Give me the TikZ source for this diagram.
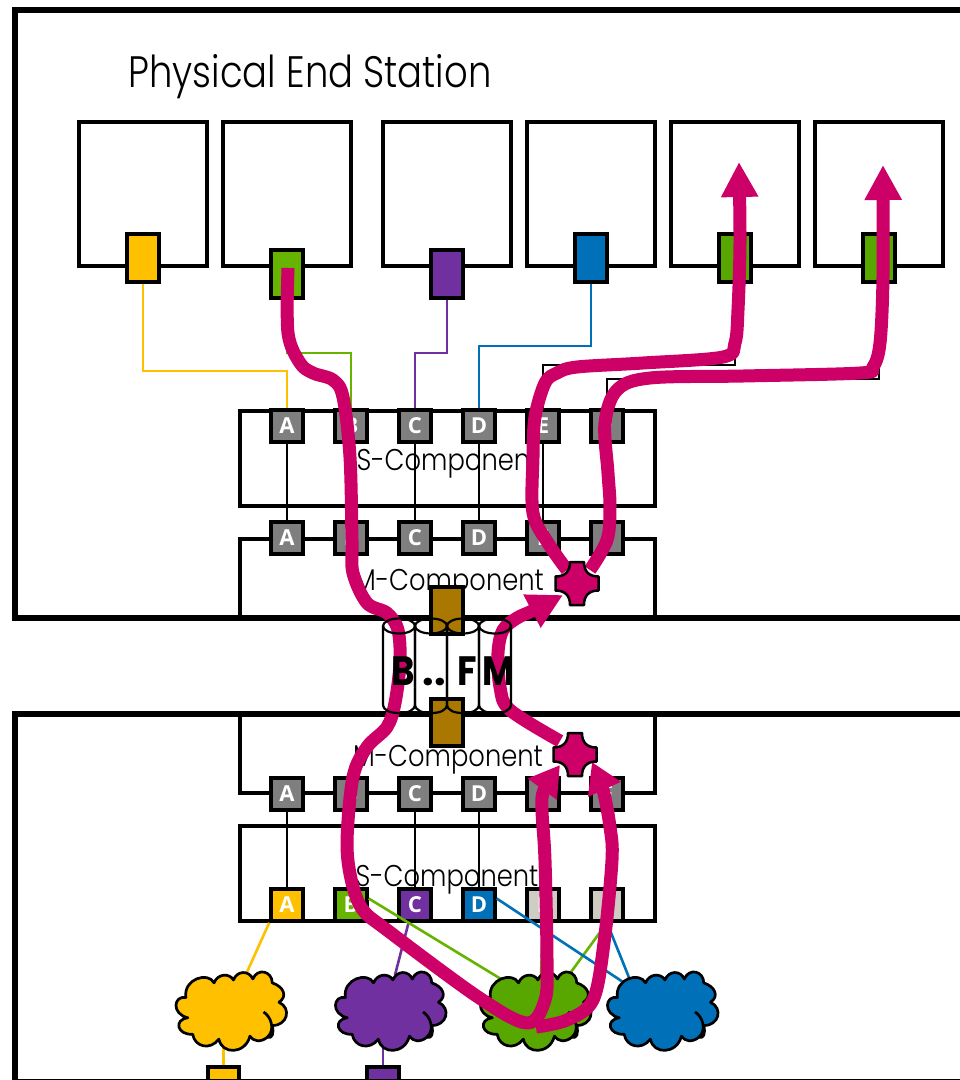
\documentclass[tikz,border=0pt]{standalone}
\usepackage{fontspec}
\setmainfont{Poppins Light}
\newfontfamily\portfont{Open Sans}[BoldFont={Open Sans Bold}]
\newfontfamily\cylfont{Poppins}[BoldFont={Poppins Bold}]
\usetikzlibrary{arrows.meta}
\definecolor{cyel}{HTML}{FFC000}
\definecolor{cgra}{HTML}{66B300}
\definecolor{cgrb}{HTML}{58A600}
\definecolor{cpur}{HTML}{7030A0}
\definecolor{cblu}{HTML}{0070B8}
\definecolor{cgry}{HTML}{7F7F7F}
\definecolor{cbei}{HTML}{CFCDC3}
\definecolor{cbro}{HTML}{AA7700}
\definecolor{cpnk}{HTML}{CC0066}
\tikzset{
  frameline/.style={line width=5.5pt,line cap=butt},
  stationbox/.style={draw=black,fill=white,line width=4pt,minimum width=127.5pt,minimum height=143.5pt,inner sep=0pt},
  compbox/.style={draw=black,fill=white,line width=4pt,minimum width=415pt,inner sep=0pt},
  tport/.style={draw=black,line width=4pt,minimum width=31.5pt,minimum height=47.5pt,inner sep=0pt},
  cport/.style={draw=black,line width=4pt,minimum width=31.5pt,minimum height=31.5pt,inner sep=0pt,text=white,font=\portfont\bfseries\fontsize{22}{22}\selectfont},
  brownbox/.style={draw=black,fill=cbro,line width=4pt,minimum width=31.5pt,minimum height=47pt,inner sep=0pt},
  thinline/.style={line width=2pt},
  innerline/.style={line width=2.5pt},
  cloudline/.style={line width=2.6pt},
  titletext/.style={font=\fontsize{44}{44}\selectfont,anchor=base,inner sep=0pt},
  comptext/.style={font=\fontsize{30}{30}\selectfont,anchor=base,inner sep=0pt},
  cyltext/.style={font=\cylfont\bfseries\fontsize{41}{41}\selectfont,anchor=base,inner sep=0pt},
  pinkline/.style={draw=cpnk,line width=13pt,line join=round},
  pinkarrow/.style={pinkline,-{Triangle[length=35pt,width=35pt,fill=cpnk]}},
  pinkarrowb/.style={pinkline,-{Triangle[length=30pt,width=34pt,fill=cpnk]}},
  crossshape/.style={draw=black,fill=cpnk,line width=2.5pt,line join=round},
  cloudshape/.style={draw=black,line width=2.7pt,line join=round},
  cylshape/.style={draw=black,line width=2.2pt},
}
\newcommand{\cloudat}[3]{%
  \begin{scope}[shift={(#1,#2)},scale=.97]
  \path[cloudshape,fill=#3]
    (-47,-13) .. controls (-50,-32) and (-24,-40) .. (-18,-28)
    .. controls (-14,-38) and (-2,-38) .. (2,-31)
    .. controls (6,-41) and (18,-41) .. (22,-32)
    .. controls (27,-44) and (42,-40) .. (42,-28)
    .. controls (54,-24) and (58,-14) .. (49,-8)
    .. controls (62,-2) and (58,16) .. (42,16)
    .. controls (44,24) and (42,30) .. (37,28)
    .. controls (30,34) and (22,32) .. (19,27)
    .. controls (14,46) and (-10,46) .. (-13,30)
    .. controls (-22,42) and (-38,38) .. (-40,25)
    .. controls (-56,26) and (-60,10) .. (-45,8)
    .. controls (-62,4) and (-60,-15) .. (-47,-13) -- cycle;
  \draw[cloudshape] (33,2) .. controls (40,6) and (46,20) .. (37,28);
  \end{scope}}
\newcommand{\crossat}[2]{%
  \path[crossshape,shift={(#1,#2)}]
    (-7,-21.5) -- (7,-21.5) .. controls (7,-12) and (12,-7) .. (21.5,-7)
    -- (21.5,7) .. controls (12,7) and (7,12) .. (7,21.5)
    -- (-7,21.5) .. controls (-7,12) and (-12,7) .. (-21.5,7)
    -- (-21.5,-7) .. controls (-12,-7) and (-7,-12) .. (-7,-21.5) -- cycle;}
\newcommand{\cylat}[1]{%
  \draw[cylshape,shift={(#1,0)}] (0,626) -- (0,704) .. controls (0,711) and (8,713) .. (16,713)
    .. controls (24,713) and (32,711) .. (32,704) -- (32,626);
  \draw[cylshape] (#1+16,626) ellipse [x radius=16,y radius=7.5];}
\newcommand{\nrw}[2]{\scalebox{#1}[1]{#2}}
\begin{document}
\begin{tikzpicture}[x=1pt,y=-1pt]
\useasboundingbox (0,0) rectangle (960,1080);
\clip (0,0) rectangle (960,1080);
\fill[white] (0,0) rectangle (960,1080);
% end-station boxes
\foreach \n/\x in {b1/143,b2/287,b3/447,b4/591,b5/735,b6/879}
  \node[stationbox] (\n) at (\x,194) {};
\node[tport,fill=cyel] (ty) at (143,258) {};
\node[tport,fill=cgra] (tg) at (287,274) {};
\node[tport,fill=cpur] (tp) at (447,274) {};
\node[tport,fill=cblu] (tb) at (591,258) {};
\node[tport,fill=cgrb] (te) at (735,258) {};
\node[tport,fill=cgrb] (tf) at (879,258) {};
% components
\node[compbox,minimum height=95pt] (S1) at (447,458) {};
\node[compbox,minimum height=80pt] (M1) at (447,578.7) {};
\node[compbox,minimum height=79pt] (M2) at (447,753.5) {};
\node[compbox,minimum height=95pt] (S2) at (447,873.7) {};
% port rows
\foreach \L/\x in {A/287,B/351,C/415,D/479,E/543,F/607}{
  \node[cport,fill=cgry] (s\L) at (\x,426) {\L};
  \node[cport,fill=cgry] (m\L) at (\x,538) {\L};
  \node[cport,fill=cgry] (n\L) at (\x,794) {\L};
}
\node[cport,fill=cyel] (rA) at (287,905) {A};
\node[cport,fill=cgra] (rB) at (351,905) {B};
\node[cport,fill=cpur] (rC) at (415,905) {C};
\node[cport,fill=cblu] (rD) at (479,905) {D};
\node[cport,fill=cbei] (rE) at (543,905) {E};
\node[cport,fill=cbei] (rF) at (607,905) {F};
% station wiring
\draw[thinline,cyel] (ty.south) -- ++(0,87) -| (sA.north);
\draw[thinline,cgra] (tg.south) -- ++(0,53) -| (sB.north);
\draw[thinline,cpur] (tp.south) -- ++(0,53) -| (sC.north);
\draw[thinline,cblu] (tb.south) -- ++(0,62) -| (sD.north);
\draw[thinline,black] (te.south) -- ++(0,81) -| (sE.north);
\draw[thinline,black] (tf.south) -- ++(0,95) -| (sF.north);
% internal wiring
\foreach \L in {A,B,C,D,E,F}{
  \draw[innerline,black] (s\L.south) -- (m\L.north);
  \draw[innerline,black] (n\L.south) -- (r\L.north);
}
% clouds
\coordinate (cya) at (247,972);
\coordinate (cpa) at (395,975);
\coordinate (cga) at (501,979);
\coordinate (cgb) at (541,975);
\coordinate (cgc) at (571,972);
\coordinate (cba) at (623,982);
\coordinate (cbb) at (630,980);
\coordinate (cyb) at (223.5,1040);
\coordinate (cpb) at (383,1040);
\node[tport,fill=cyel] (by) at (223.5,1091) {};
\node[tport,fill=cpur] (bp) at (383,1091) {};
\draw[cloudline,cyel] (rA.south west) -- (cya);
\draw[cloudline,cpur] (rC.-110) -- (cpa);
\draw[cloudline,cgra] (rB.20) -- (cga);
\draw[cloudline,cgra] (rE.south) -- (cgb);
\draw[cloudline,cgra] (rF.south) -- (cgc);
\draw[cloudline,cblu] (rD.20) -- (cba);
\draw[cloudline,cblu] (rF.south) -- (cbb);
\draw[cloudline,cyel] (cyb) -- (by.north);
\draw[cloudline,cpur] (cpb) -- (bp.north);
\cloudat{231.5}{1010}{cyel}
\cloudat{391}{1010}{cpur}
\cloudat{536}{1010}{cgrb}
\cloudat{663}{1010}{cblu}
% frames
\draw[frameline] (965,10) -- (15,10) -- (15,618) -- (965,618);
\draw[frameline] (965,714) -- (15,714) -- (15,1085);
\draw[line width=1.5pt] (15,1079.3) -- (965,1079.3);
% labels
\node[titletext] (title) at (310,87) {\nrw{.84}{Physical End Station}};
\node[comptext] (lS1) at (448,470) {\nrw{.86}{S-Component}};
\node[comptext] (lM1) at (449,590) {\nrw{.86}{M-Component}};
\node[comptext] (lM2) at (448,766) {\nrw{.86}{M-Component}};
\node[comptext] (lS2) at (447,886) {\nrw{.86}{S-Component}};
% brown connectors
\node[brownbox] (u1) at (447,610) {};
\node[brownbox] (u2) at (447,722) {};
% pink routes
\draw[pinkarrowb] plot[smooth,tension=0.55] coordinates {(288,268) (288,333) (300,363) (313,373) (333,380) (343,397) (350,457) (352,540) (353,573) (367,603) (387,613) (398,630) (400,663) (395,703) (387,727) (367,747) (353,777) (347,843) (352,883) (363,910) (387,930) (478,997) (527,1023) (545,1000) (547,960) (545,860) (542,810) (544,790) (560,765)};
\draw[pinkarrowb] plot[smooth,tension=0.55] coordinates {(536,1027) (567,1020) (593,1000) (604,943) (612,860) (610,827) (603,790) (592,762)};
\draw[pinkarrow] plot[smooth,tension=0.55] coordinates {(560,741) (510,710) (500,687) (498,653) (503,630) (517,618) (532,611) (563,595)};
\draw[pinkarrow] plot[smooth,tension=0.55] coordinates {(567,570) (548,543) (533,513) (533,457) (535,417) (545,383) (557,373) (577,367) (643,363) (723,357) (735,343) (738,310) (740,243) (739,162)};
\draw[pinkarrow] plot[smooth,tension=0.55] coordinates {(590,570) (607,540) (610,507) (608,473) (605,423) (617,390) (650,378) (743,376) (860,373) (873,367) (880,343) (883,277) (883,165)};
\crossat{577}{583.5}
\crossat{575}{754.5}
% cylinders
\foreach \x in {383,415,447,479} {\cylat{\x}}
\node[cyltext] (cB) at (403.5,685) {\nrw{.87}{B}};
\node[cyltext] (cd) at (434,685) {..};
\node[cyltext] (cF) at (467.5,685) {\nrw{.87}{F}};
\node[cyltext] (cM) at (498,685) {\nrw{.85}{M}};
\end{tikzpicture}
\end{document}
